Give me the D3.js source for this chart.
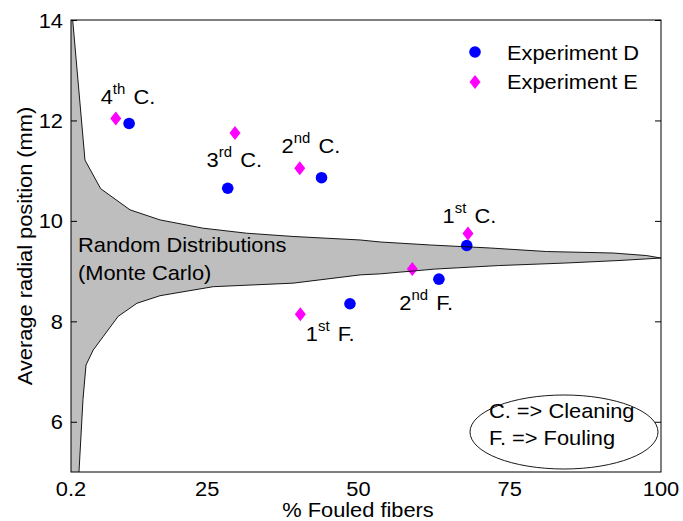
<!DOCTYPE html>
<html lang="en">
<head>
    <meta charset="UTF-8">
    <title>Average radial position vs fouled fibers</title>
    <script src="https://cdn.jsdelivr.net/npm/d3@7"></script>
    <style>
        body { margin: 0; background: #fff; }
        text { font-family: 'Liberation Sans', Arial, sans-serif; fill: #000; }
    </style>
</head>
<body>
<script>
    // experiment D (circles) and E (diamonds): order 1st C, 2nd C, 3rd C, 4th C, 1st F, 2nd F
    const expDX = [67.9, 43.9, 28.4, 12.1, 48.6, 63.3]
    const expDY = [9.51, 10.86, 10.65, 11.94, 8.35, 8.84]
    const expEX = [68.1, 40.3, 29.6, 9.9, 40.4, 58.9]
    const expEY = [9.75, 11.05, 11.75, 12.04, 8.14, 9.04]

    // annotations
    const annoNum = ['1', '2', '3', '4', '1', '2']
    const annoSup = ['st', 'nd', 'rd', 'th', 'st', 'nd']
    const annoTxt = ['C.', 'C.', 'C.', 'C.', 'F.', 'F.']
    const annoX = [63.9, 37.3, 24.9, 7.4, 41.3, 56.75]
    const annoY = [9.955, 11.35, 11.07, 12.32, 7.61, 8.23]

    // Monte Carlo band
    const bandUpX = [2.5, 2.78, 4.81, 7.41, 12.25, 17.2, 24.3, 31.5, 39.2, 50.3, 53.6, 61.9, 71.8, 81.1, 92.1, 97.6, 100]
    const bandUpY = [14.4, 14.0, 11.21, 10.64, 10.22, 10.02, 9.855, 9.755, 9.69, 9.62, 9.58, 9.52, 9.46, 9.39, 9.36, 9.31, 9.26]
    const bandLoX = [100, 92.9, 84.1, 73.1, 62.6, 53.6, 50.3, 39.2, 26.0, 17.2, 13.4, 10.3, 7.84, 6.18, 4.98, 4.48, 3.82, 3.7, 2.5]
    const bandLoY = [9.26, 9.21, 9.16, 9.11, 9.04, 8.945, 8.925, 8.76, 8.69, 8.51, 8.36, 8.10, 7.70, 7.43, 7.13, 6.44, 5.0, 4.6, 4.6]

    const xTicks = [2.5, 25, 50, 75, 100]
    const xTickLabels = ['0.2', '25', '50', '75', '100']
    const yTicks = [6, 8, 10, 12, 14]

    const [width, height] = [683, 521]
    const m = {left: 71, right: 661, top: 20, bottom: 472}
    const fs = 20.5, sx = 1.065

    const x = d3.scaleLinear().domain([2.5, 100]).range([m.left, m.right])
    const y = d3.scaleLinear().domain([5, 14]).range([m.bottom, m.top])

    const svg = d3.select('body').append('svg')
        .attr('width', width)
        .attr('height', height)

    // text helper, slightly widened like the original
    const label = (px, py, str, anchor, rot) => svg.append('g')
        .attr('transform', `translate(${px},${py})` + (rot ? ` rotate(${rot})` : '') + ` scale(${sx},1)`)
        .append('text')
        .attr('font-size', fs)
        .attr('text-anchor', anchor || 'start')
        .text(str)

    svg.append('clipPath').attr('id', 'clip')
        .append('rect')
        .attr('x', m.left).attr('y', m.top)
        .attr('width', m.right - m.left).attr('height', m.bottom - m.top)

    const up = bandUpX.map((v, i) => [v, bandUpY[i]])
    const lo = bandLoX.map((v, i) => [v, bandLoY[i]])
    const line = d3.line().x(d => x(d[0])).y(d => y(d[1]))

    svg.append('path')
        .attr('clip-path', 'url(#clip)')
        .attr('d', line(up.concat(lo)) + 'Z')
        .attr('fill', '#bebebe')
        .attr('stroke', 'none')

    label(78, 252, 'Random Distributions')
    label(78, 280, '(Monte Carlo)')

    // markers
    svg.selectAll('circle.d').data(expDX)
        .enter().append('circle').attr('class', 'd')
        .attr('cx', d => x(d))
        .attr('cy', (d, i) => y(expDY[i]))
        .attr('r', 5.8)
        .attr('fill', '#0000ff')

    const diamond = (cx, cy) => `M${cx},${cy - 7}L${cx + 5.5},${cy}L${cx},${cy + 7}L${cx - 5.5},${cy}Z`
    svg.selectAll('path.e').data(expEX)
        .enter().append('path').attr('class', 'e')
        .attr('d', (d, i) => diamond(x(d), y(expEY[i])))
        .attr('fill', '#ff00ff')

    // band outlines on top
    svg.append('g').attr('clip-path', 'url(#clip)')
        .selectAll('path').data([up, lo])
        .enter().append('path')
        .attr('d', d => line(d))
        .attr('fill', 'none')
        .attr('stroke', '#000')
        .attr('stroke-width', 0.9)

    // annotations
    annoNum.forEach((n, i) => {
        const t = label(x(annoX[i]), y(annoY[i]), null)
        t.append('tspan').text(n)
        t.append('tspan').attr('font-size', 14).attr('dy', -10).text(annoSup[i])
        t.append('tspan').attr('dy', 10).attr('dx', 2).text(' ' + annoTxt[i])
    })

    // axes
    svg.append('g').attr('transform', `translate(${m.left},0)`)
        .call(d3.axisLeft(y).tickValues(yTicks).tickSizeInner(-6).tickSizeOuter(0).tickFormat(''))
        .call(g => g.select('.domain').remove())
    svg.append('g').attr('transform', `translate(${m.right},0)`)
        .call(d3.axisRight(y).tickValues(yTicks).tickSizeInner(-6).tickSizeOuter(0).tickFormat(''))
        .call(g => g.select('.domain').remove())
    svg.selectAll('.tick line').attr('stroke', '#000')

    svg.append('rect')
        .attr('x', m.left).attr('y', m.top)
        .attr('width', m.right - m.left).attr('height', m.bottom - m.top)
        .attr('fill', 'none').attr('stroke', '#000').attr('stroke-width', 1)

    yTicks.forEach(v => label(m.left - 8, y(v) + 7.5, String(v), 'end'))
    xTicks.forEach((v, i) => label(x(v), 496, xTickLabels[i], 'middle'))

    label(358, 517, '% Fouled fibers', 'middle')
    label(32, (m.top + m.bottom) / 2, 'Average radial position (mm)', 'middle', -90)

    // legend
    svg.append('circle').attr('cx', 475).attr('cy', 52).attr('r', 5.8).attr('fill', '#0000ff')
    svg.append('path').attr('d', diamond(475, 82)).attr('fill', '#ff00ff')
    label(507, 60, 'Experiment D')
    label(507, 89, 'Experiment E')

    // note ellipse
    svg.append('ellipse')
        .attr('cx', 564).attr('cy', 432).attr('rx', 94).attr('ry', 37)
        .attr('fill', 'none').attr('stroke', '#000').attr('stroke-width', 0.9)
    label(489, 418, 'C. => Cleaning')
    label(489, 445, 'F. => Fouling')
</script>
</body>
</html>
